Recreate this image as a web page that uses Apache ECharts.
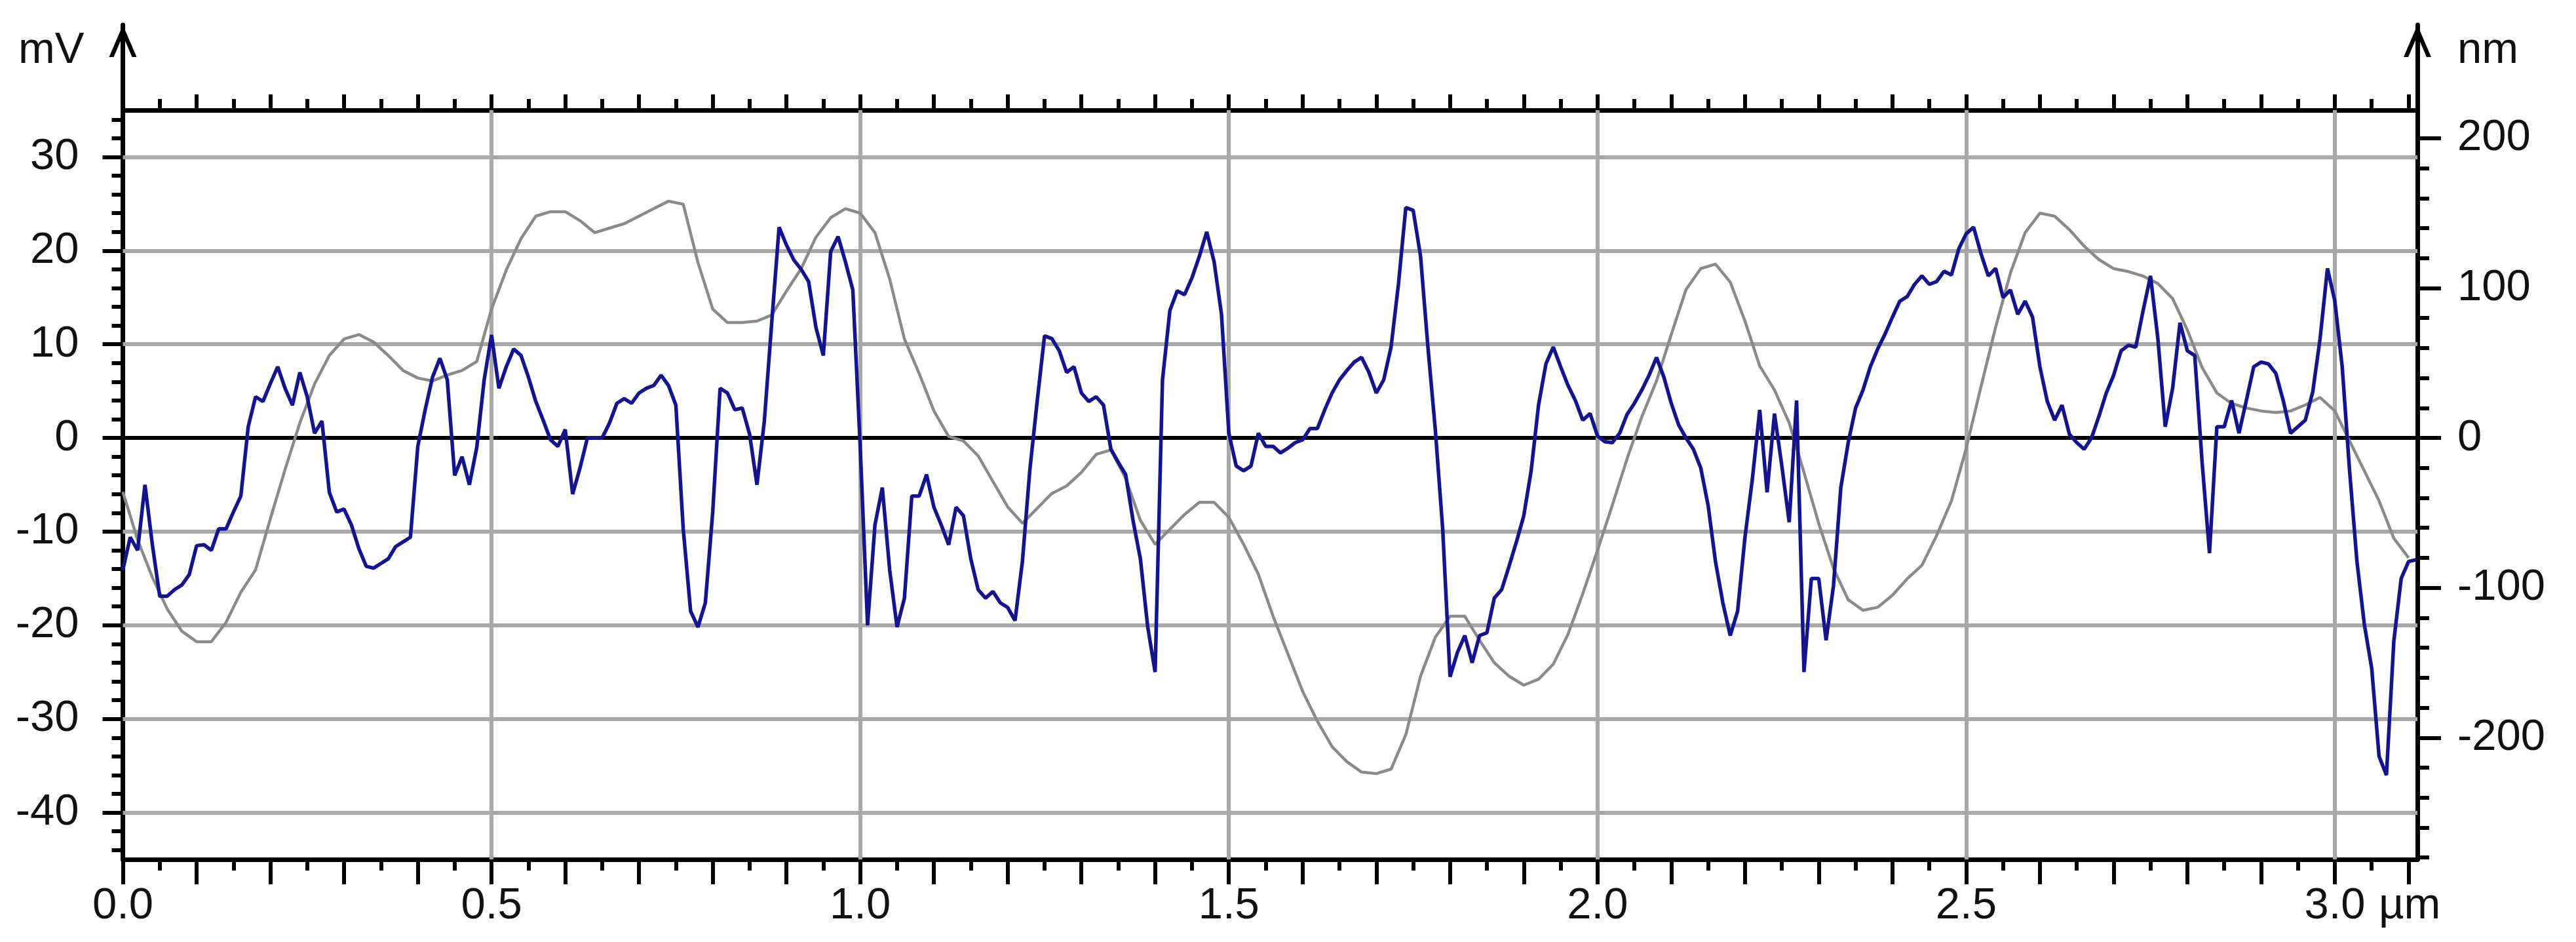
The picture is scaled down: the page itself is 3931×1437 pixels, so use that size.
<!DOCTYPE html>
<html><head><meta charset="utf-8">
<script src="https://cdn.jsdelivr.net/npm/echarts@6/dist/echarts.min.js"></script>
<style>html,body{margin:0;padding:0;background:#fff}#c{width:3931px;height:1437px}</style>
</head><body><div id="c"></div>
<script>
// ---- data ----
const signalStep = 0.01; // µm between samples of the mV trace
const signal_mV = [
-14.1,-10.6,-12,-5,-11.4,-16.9,-16.9,-16.2,-15.7,-14.6,
-11.5,-11.4,-12,-9.7,-9.7,-7.9,-6.2,1.2,4.4,3.9,
5.8,7.6,5.3,3.5,7,4.4,0.5,1.8,-5.8,-7.9,
-7.6,-9.3,-11.8,-13.7,-13.9,-13.4,-12.9,-11.6,-11.1,-10.6,
-0.9,3,6.5,8.5,6.2,-4,-2,-5,-1,6.2,
11,5.3,7.6,9.5,8.8,6.5,3.9,1.9,-0.2,-0.9,
0.9,-6,-3.2,0,0,0,1.6,3.7,4.2,3.7,
4.8,5.3,5.6,6.7,5.6,3.5,-9.7,-18.5,-20.2,-17.6,
-7.9,5.3,4.8,3,3.2,0.4,-5,1.8,12.3,22.5,
20.6,19,18,16.7,11.8,8.8,19.9,21.5,18.8,15.8,
-0.9,-20,-9.3,-5.3,-14.1,-20.2,-17.1,-6.2,-6.2,-3.9,
-7.4,-9.3,-11.4,-7.4,-8.3,-12.9,-16.2,-17.1,-16.4,-17.6,
-18.1,-19.5,-13.2,-3.5,3.9,10.9,10.6,9.3,7,7.6,
4.8,3.9,4.4,3.5,-1.2,-2.6,-3.9,-8.8,-12.9,-20.2,
-25,6.2,13.6,15.7,15.3,17.1,19.4,22,18.8,13.2,
0.5,-3,-3.5,-3,0.5,-0.9,-0.9,-1.6,-1.1,-0.5,
-0.2,1,1,3,4.8,6.2,7.2,8.1,8.6,7,
4.8,6.2,9.7,16.4,24.6,24.3,19.4,9.7,0.9,-9.7,
-25.5,-22.9,-21.1,-24,-21.1,-20.8,-17.1,-16.2,-13.7,-11.1,
-8.3,-3.5,3.5,7.9,9.7,7.6,5.6,4,1.9,2.6,
0.2,-0.4,-0.5,0.5,2.5,3.7,5.1,6.7,8.6,6.5,
3.7,1.4,0,-1.2,-3.2,-7.2,-13.2,-17.6,-21.1,-18.5,
-10.6,-4.4,3,-5.8,2.6,-3,-9,4,-25,-15,
-15,-21.6,-15.8,-5.3,-0.5,3.2,5.1,7.6,9.5,11.1,
12.9,14.6,15.1,16.4,17.3,16.4,16.7,17.8,17.4,20.2,
21.8,22.5,19.7,17.3,18.1,15,15.8,13.2,14.6,12.9,
7.6,3.9,1.9,3.5,0.4,-0.5,-1.2,0,2.3,4.8,
6.7,9.3,9.9,9.7,13.6,17.3,10.6,1.2,5.3,12.3,
9.3,8.8,-2.6,-12.3,1.2,1.2,4,0.5,4,7.6,
8.1,7.9,6.9,4,0.5,1.2,1.9,4.9,10.6,18.1,
14.6,7.6,-3.5,-13.2,-19.9,-24.6,-34,-36,-21.7,-15,
-13.2,-13
];
const heightStep = 0.02; // µm between samples of the nm trace
const height_nm = [
-36,-68,-93,-114,-129,-136,-136,-123,-103,-88,
-54,-21,10,36,55,66,69,64,55,45,
40,38,42,45,51,86,112,133,148,151,
151,145,137,140,143,148,153,158,156,117,
86,77,77,78,82,98,113,134,147,153,
150,137,106,66,43,18,1,-2,-12,-29,
-46,-57,-47,-37,-32,-23,-11,-8,-27,-55,
-71,-61,-51,-43,-43,-53,-71,-91,-119,-144,
-169,-189,-206,-216,-223,-224,-221,-198,-159,-133,
-119,-119,-135,-150,-159,-165,-161,-151,-131,-104,
-75,-45,-14,14,38,69,99,113,116,104,
78,48,32,10,-23,-57,-87,-108,-115,-113,
-105,-94,-85,-65,-42,-7,34,74,110,137,
150,148,139,128,119,113,111,108,103,93,
72,47,30,23,20,18,17,18,22,27,
18,-2,-22,-42,-67,-80
];
const xLabelValues = [0, 0.5, 1, 1.5, 2, 2.5, 3];
const xGridValues = [0.5, 1, 1.5, 2, 2.5, 3];
const mVLabelValues = [-40, -30, -20, -10, 0, 10, 20, 30];
const nmLabelValues = [-200, -100, 0, 100, 200];
const xRange = [0, 3.112];
const mVRange = [-45, 35];
const nmRange = [-281.25, 218.75];
const xUnit = 'µm', leftUnit = 'mV', rightUnit = 'nm';

// ---- helpers ----
function seq(a, b, s) { const r = []; for (let v = a; v <= b + 1e-9; v += s) r.push(Math.round(v * 1000) / 1000); return r; }
const xMajorTicks = seq(0, 3.1, 0.1);
const xMinorTicks = seq(0.05, 3.05, 0.1);
const mVMinorTicks = seq(-44, 34, 2).filter(v => v % 10 !== 0);
const nmMinorTicks = seq(-280, 200, 20).filter(v => v % 100 !== 0);

const signalData = signal_mV.map((v, i) => [Math.round(i * signalStep * 1000) / 1000, v]);
const heightData = height_nm.map((v, i) => [Math.round(i * heightStep * 1000) / 1000, v]);

const FONT = "'Liberation Sans Narrow','Liberation Sans',Arial,sans-serif";
const FS = 67;
const AX = '#000';
const LW = 7, TW = 6;
const CHEVRON = 'path://M21,0 L42,49 L35,49 L21,16.3 L7,49 L0,49 Z';

function helperX(pos, ticks, len) {
  return { type: 'value', gridIndex: 0, position: pos, min: xRange[0], max: xRange[1],
    axisLine: { show: false, onZero: false },
    axisTick: { show: true, customValues: ticks, length: len, lineStyle: { color: AX, width: TW } },
    axisLabel: { show: false }, splitLine: { show: false } };
}
function helperY(pos, range, ticks, len) {
  return { type: 'value', gridIndex: 0, position: pos, min: range[0], max: range[1],
    axisLine: { show: false, onZero: false },
    axisTick: { show: true, customValues: ticks, length: len, lineStyle: { color: AX, width: TW } },
    axisLabel: { show: false }, splitLine: { show: false } };
}

const chart = echarts.init(document.getElementById('c'), null, { renderer: 'canvas' });
chart.setOption({
  animation: false,
  backgroundColor: '#fff',
  grid: [
    { left: 187.5, right: 242, top: 168, bottom: 126, outerBoundsMode: 'none', containLabel: false },
    { left: 187.5, right: 242, top: 38, bottom: 1437 - 168, outerBoundsMode: 'none', containLabel: false }
  ],
  xAxis: [
    { type: 'value', gridIndex: 0, position: 'bottom', min: xRange[0], max: xRange[1],
      axisLine: { show: true, onZero: false, lineStyle: { color: AX, width: LW } },
      axisTick: { show: true, customValues: xMajorTicks, length: 38, lineStyle: { color: AX, width: TW } },
      axisLabel: { show: true, customValues: xLabelValues, margin: 38, color: '#111', fontFamily: FONT, fontSize: FS,
        formatter: v => Number(v).toFixed(1) },
      splitLine: { show: false },
      name: xUnit, nameLocation: 'end', nameGap: -59, nameMoveOverlap: false,
      nameTextStyle: { color: '#111', fontFamily: FONT, fontSize: FS, align: 'left', verticalAlign: 'top', padding: [38, 0, 0, 0] } },
    helperX('bottom', xMinorTicks, 17),
    { type: 'value', gridIndex: 0, position: 'top', min: xRange[0], max: xRange[1],
      axisLine: { show: true, onZero: false, lineStyle: { color: AX, width: LW } },
      axisTick: { show: true, customValues: xMajorTicks, length: 24, lineStyle: { color: AX, width: TW } },
      axisLabel: { show: false }, splitLine: { show: false } },
    helperX('top', xMinorTicks, 17),
    { type: 'value', gridIndex: 1, min: 0, max: 1, show: false }
  ],
  yAxis: [
    { type: 'value', gridIndex: 0, position: 'left', min: mVRange[0], max: mVRange[1],
      axisLine: { show: true, onZero: false, lineStyle: { color: AX, width: LW } },
      axisTick: { show: true, customValues: mVLabelValues, length: 31, lineStyle: { color: AX, width: TW } },
      axisLabel: { show: true, customValues: mVLabelValues, margin: 67, color: '#111', fontFamily: FONT, fontSize: FS,
        padding: [0, 0, 14, 0], formatter: v => String(v) },
      splitLine: { show: false } },
    helperY('left', mVRange, mVMinorTicks, 17),
    { type: 'value', gridIndex: 0, position: 'right', min: nmRange[0], max: nmRange[1],
      axisLine: { show: true, onZero: false, lineStyle: { color: AX, width: LW } },
      axisTick: { show: true, customValues: nmLabelValues, length: 36, lineStyle: { color: AX, width: TW } },
      axisLabel: { show: true, customValues: nmLabelValues, margin: 61, color: '#111', fontFamily: FONT, fontSize: FS,
        padding: [0, 0, 14, 0], formatter: v => String(v) },
      splitLine: { show: false } },
    helperY('right', nmRange, nmMinorTicks, 18),
    { type: 'value', gridIndex: 1, position: 'left', min: 0, max: 1,
      axisLine: { show: true, onZero: false, symbol: ['none', CHEVRON], symbolSize: [42, 49], symbolOffset: [0, -24.5],
        lineStyle: { color: AX, width: LW } },
      axisTick: { show: false }, axisLabel: { show: false }, splitLine: { show: false },
      name: leftUnit, nameLocation: 'end', nameGap: -39.5, nameMoveOverlap: false,
      nameTextStyle: { color: '#111', fontFamily: FONT, fontSize: FS, align: 'right', verticalAlign: 'middle', padding: [0, 59, 0, 0] } },
    { type: 'value', gridIndex: 1, position: 'right', min: 0, max: 1,
      axisLine: { show: true, onZero: false, symbol: ['none', CHEVRON], symbolSize: [42, 49], symbolOffset: [0, -24.5],
        lineStyle: { color: AX, width: LW } },
      axisTick: { show: false }, axisLabel: { show: false }, splitLine: { show: false },
      name: rightUnit, nameLocation: 'end', nameGap: -39.5, nameMoveOverlap: false,
      nameTextStyle: { color: '#111', fontFamily: FONT, fontSize: FS, align: 'left', verticalAlign: 'middle', padding: [0, 0, 0, 61] } }
  ],
  series: [
    { type: 'line', name: 'grid', xAxisIndex: 0, yAxisIndex: 0, data: [], silent: true, z: 1,
      markLine: { silent: true, animation: false, z: 1, symbol: ['none', 'none'], label: { show: false },
        emphasis: { disabled: true },
        lineStyle: { color: '#a8a8a8', width: 6, type: 'solid' },
        data: mVLabelValues.map(v => v === 0
          ? { yAxis: v, lineStyle: { color: '#000', width: 6, type: 'solid' } }
          : { yAxis: v }).concat(xGridValues.map(v => ({ xAxis: v }))) } },
    { type: 'line', name: 'height', xAxisIndex: 0, yAxisIndex: 2, data: heightData, showSymbol: false, symbol: 'none',
      z: 2, lineStyle: { color: '#8a8a8a', width: 4.5 }, silent: true },
    { type: 'line', name: 'signal', xAxisIndex: 0, yAxisIndex: 0, data: signalData, showSymbol: false, symbol: 'none',
      z: 3, lineStyle: { color: '#14148e', width: 5.5 }, silent: true }
  ]
});
</script></body></html>
